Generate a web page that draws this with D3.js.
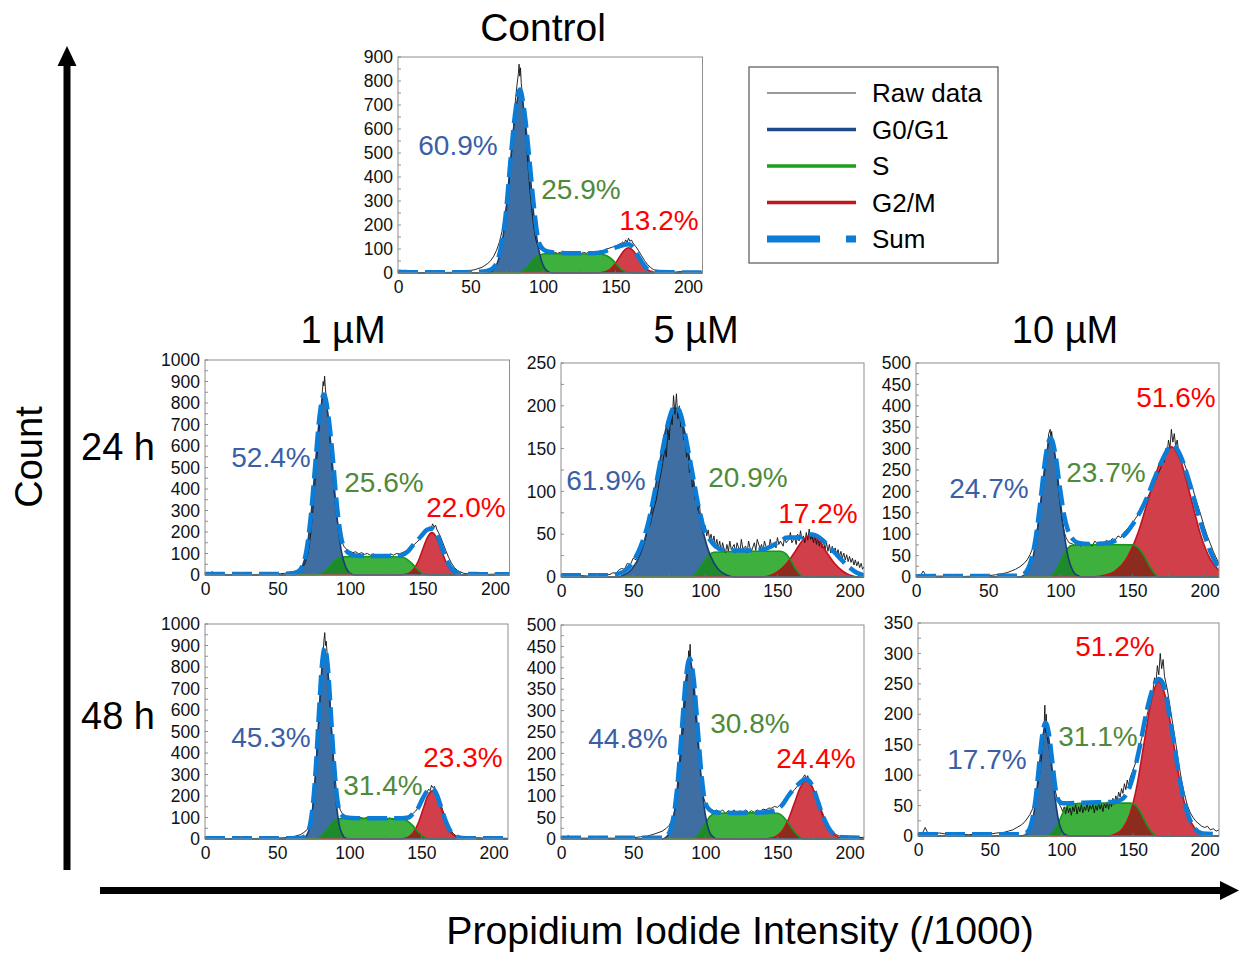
<!DOCTYPE html>
<html>
<head>
<meta charset="utf-8">
<script src="https://cdn.jsdelivr.net/npm/d3@7"></script>
<style>
  body { margin: 0; background: #fff; }
  text { font-family: "Liberation Sans", Arial, sans-serif; }
</style>
</head>
<body>
<svg id="fig" width="1239" height="954"></svg>
<script>
// every series is [PI intensity (/1000), count]

// ---- Control ----
const ctrlRaw = [[0,3],[3,4],[5,12],[7,3],[12,2],[20,2],[30,2],[40,3],[45,5],[48,8],[50,10],[53,14],[55,18],[58,24],[60,32],[62,40],[64,52],[66,70],[68,95],[70,130],[72,180],[74,250],[76,340],[78,470],[79,560],[80,630],[81,720],[82,780],[83,830],[83.5,870],[84,820],[84.5,855],[85,790],[86,730],[87,660],[88,590],[89,500],[90,420],[91,340],[92,280],[93,220],[94,175],[95,140],[96,120],[97,108],[98,100],[100,92],[102,88],[104,90],[106,84],[108,86],[110,82],[112,86],[114,80],[116,84],[118,78],[120,82],[122,76],[124,84],[126,80],[128,86],[130,82],[132,88],[134,84],[136,90],[138,88],[140,94],[142,92],[144,100],[146,104],[148,108],[150,112],[152,118],[154,124],[155,130],[156,122],[157,138],[158,128],[159,145],[160,132],[161,138],[162,125],[164,110],[166,92],[168,72],[170,52],[172,36],[174,24],[176,15],[178,10],[180,7],[185,4],[190,3],[195,6],[198,3],[205,2],[210,4]]
const ctrlG1 = [[62,0],[65,8],[68,33],[71,100],[74.5,250],[77.5,460],[81,670],[84,760],[87,670],[90.5,460],[93.5,250],[97,100],[100,33],[103,8],[106,0]]
const ctrlS = [[82,0],[86,8],[90,30],[94,60],[98,75],[102,80],[120,80],[140,78],[144,72],[148,55],[151,35],[154,15],[158,3],[162,0]]
const ctrlG2 = [[136,0],[139.5,1],[142.75,5],[146,14],[149.25,34],[152.5,64],[155.75,93],[159,105],[162.25,93],[165.5,64],[168.75,34],[172,14],[175.25,5],[178.5,1],[182,0]]
const ctrlSum = [[0,5],[10,3],[20,3],[40,3],[55,5],[62,10],[65,18],[68,42],[71,108],[74.5,255],[77.5,465],[81,675],[84,765],[87,680],[90.5,480],[93.5,290],[97,130],[100,100],[103,90],[108,85],[120,82],[130,82],[140,86],[146,98],[152,110],[156,118],[159,120],[162,108],[165.5,72],[168.75,40],[172,18],[176,8],[180,4],[190,3],[210,2]]
const ctrlPct = [60.9, 25.9, 13.2]

// ---- 1 uM, 24 h ----
const m1h24Raw = [[0,3],[3,4],[5,16],[7,4],[10,3],[20,2],[30,2],[40,3],[48,4],[52,6],[55,8],[58,11],[60,14],[62,18],[64,24],[66,30],[68,42],[69,55],[70,75],[71,100],[72,140],[73,200],[74,270],[75,350],[76,440],[77,530],[78,620],[79,700],[80,780],[81,860],[81.5,900],[82,880],[82.5,925],[83,870],[84,800],[85,730],[86,650],[87,560],[88,470],[89,390],[90,320],[91,265],[92,220],[93,185],[94,160],[95,145],[96,132],[97,124],[98,116],[100,110],[102,104],[104,108],[106,98],[108,104],[110,96],[112,100],[114,92],[116,98],[118,90],[120,96],[122,88],[124,96],[126,90],[128,98],[130,92],[132,100],[134,98],[136,104],[138,110],[140,118],[142,128],[144,140],[146,152],[148,166],[150,180],[152,195],[153,205],[154,215],[155,225],[156,218],[157,238],[158,222],[159,232],[160,210],[162,185],[164,150],[166,115],[168,82],[170,55],[172,35],[174,22],[176,14],[178,9],[180,6],[185,4],[190,5],[195,3],[200,4],[205,3],[210,3]]
const m1h24G1 = [[61,0],[64,9],[67,37],[70,112],[73,270],[76,504],[79,732],[82,830],[85,732],[88,504],[91,270],[94,112],[97,37],[100,9],[103,0]]
const m1h24S = [[76,0],[80,5],[84,25],[88,55],[92,78],[96,85],[120,86],[135,84],[139,75],[143,52],[146,30],[149,12],[153,2],[156,0]]
const m1h24G2 = [[134,0],[137.6,2],[140.75,9],[143.9,27],[147.05,64],[150.2,120],[153.35,174],[156.5,197],[159.65,174],[162.8,120],[165.95,64],[169.1,27],[172.25,9],[175.4,2],[179,0]]
const m1h24Sum = [[0,5],[50,5],[60,8],[64,14],[67,40],[70,115],[73,275],[76,510],[79,740],[82,840],[85,745],[88,555],[91,320],[94,170],[97,118],[100,98],[105,90],[115,88],[125,88],[135,92],[140,110],[143,135],[147,165],[150,188],[153,210],[156.5,215],[160,190],[163,135],[166,80],[169,40],[172,18],[176,7],[180,5],[190,4],[210,3]]
const m1h24Pct = [52.4, 25.6, 22.0]

// ---- 5 uM, 24 h ----
const m5h24Raw = [[0,2],[10,2],[20,1],[30,2],[34,3],[36,5],[38,4],[40,8],[42,10],[44,9],[46,16],[48,14],[50,22],[52,20],[54,30],[56,34],[58,42],[60,55],[62,62],[64,78],[66,90],[68,110],[70,128],[72,150],[73,140],[74,172],[75,160],[76,190],[77,178],[78,212],[79,190],[80,214],[81,185],[82,200],[83,175],[84,188],[85,160],[86,168],[87,140],[88,150],[89,122],[90,130],[91,105],[92,112],[93,90],[94,96],[95,78],[96,84],[97,66],[98,72],[99,58],[100,60],[101,48],[102,55],[103,44],[104,50],[105,40],[106,48],[107,36],[108,44],[109,34],[110,42],[111,30],[112,40],[113,33],[114,28],[115,38],[116,30],[117,42],[118,32],[120,38],[121,28],[122,40],[124,30],[125,44],[126,33],[128,36],[129,28],[130,42],[131,34],[132,30],[134,40],[135,31],[136,44],[138,33],[139,38],[140,30],[141,42],[142,36],[144,33],[145,44],[146,35],[148,40],[149,34],[150,46],[151,38],[152,42],[154,36],[155,48],[156,40],[158,44],[159,52],[160,40],[162,46],[163,38],[164,50],[165,42],[166,54],[167,44],[168,48],[169,40],[170,52],[171,43],[172,56],[173,44],[174,48],[175,40],[176,50],[177,38],[178,46],[179,36],[180,44],[181,34],[182,42],[183,32],[184,40],[185,30],[186,38],[187,28],[188,36],[189,27],[190,34],[191,25],[192,32],[193,24],[194,30],[195,22],[196,28],[197,20],[198,26],[199,18],[200,24],[201,17],[202,22],[203,14],[204,20],[205,13],[206,18],[207,11],[208,16],[209,9],[210,12]]
const m5h24G1 = [[40,0],[43,2],[49,9],[55,27],[61,64],[67,120],[73,175],[79,198],[85,175],[91,120],[97,64],[103,27],[109,9],[115,2],[120,0]]
const m5h24S = [[90,0],[94,5],[98,15],[102,25],[106,29],[130,30],[152,30],[156,27],[159,20],[162,11],[165,4],[168,0]]
const m5h24G2 = [[140,0],[145.5,2],[151,7],[156.5,16],[162,29],[167.5,43],[173,48.5],[178.5,43],[184,29],[189.5,16],[195,7],[200.5,2],[206,0]]
const m5h24Sum = [[0,2],[30,2],[40,4],[45,8],[50,18],[55,35],[60,60],[65,100],[70,145],[75,185],[79,200],[83,190],[87,158],[91,122],[95,85],[99,57],[103,44],[107,36],[112,32],[120,31],[130,31],[140,32],[146,36],[152,42],[157,46],[162,46],[167,47],[172,50],[176,49],[180,45],[185,37],[190,28],[195,19],[200,11],[205,5],[210,2]]
const m5h24Pct = [61.9, 20.9, 17.2]

// ---- 10 uM, 24 h ----
const m10h24Raw = [[0,2],[3,3],[5,14],[7,3],[10,2],[20,2],[30,1],[40,2],[50,3],[55,5],[60,8],[63,10],[66,14],[69,18],[72,24],[75,32],[77,40],[79,52],[81,68],[83,95],[85,130],[86,160],[87,190],[88,215],[89,240],[90,270],[91,300],[92,335],[93,345],[93.5,320],[94,340],[95,310],[96,295],[97,265],[98,230],[99,195],[100,165],[101,138],[102,118],[103,102],[104,92],[105,86],[106,80],[108,78],[110,74],[112,80],[114,72],[116,78],[118,74],[120,80],[122,72],[124,84],[126,76],[128,82],[130,78],[132,86],[134,80],[136,90],[138,86],[140,96],[142,92],[144,104],[146,110],[148,118],[150,126],[152,136],[154,146],[156,156],[158,168],[160,182],[162,196],[164,210],[166,226],[168,242],[170,258],[171,280],[172,268],[173,300],[174,288],[175,320],[176,300],[177,345],[178,315],[179,335],[180,305],[181,320],[182,295],[184,285],[186,265],[188,245],[190,225],[192,205],[194,180],[196,160],[198,138],[200,115],[202,95],[204,78],[206,60],[208,45],[210,32]]
const m10h24G1 = [[72,0],[74.7,3.5],[77.8,14],[80.9,43],[84,104],[87.1,194],[90.2,282],[93.3,320],[96.4,282],[99.5,194],[102.6,104],[105.7,43],[108.8,14],[111.9,3.5],[115,0]]
const m10h24S = [[92,0],[96,10],[100,35],[104,62],[108,74],[130,76],[150,75],[154,68],[158,50],[162,25],[165,10],[168,0]]
const m10h24G2 = [[124,0],[129.9,3.4],[137.75,13],[145.6,41],[153.45,99],[161.3,185],[169.15,268],[177,304],[183.75,268],[190.5,185],[197.25,99],[204,41],[210.75,13]]
const m10h24Sum = [[0,2],[70,3],[75,8],[78,22],[81,55],[84,115],[87,200],[90,285],[93.3,325],[96.4,290],[99.5,215],[102.6,145],[105.7,105],[108.8,88],[112,80],[120,77],[130,78],[136,82],[140,88],[145,100],[150,122],[155,150],[160,185],[165,228],[170,268],[174,295],[177,308],[180,303],[184,278],[188,238],[192,192],[196,142],[200,98],[204,60],[208,32],[210,22]]
const m10h24Pct = [24.7, 23.7, 51.6]

// ---- 1 uM, 48 h ----
const m1h48Raw = [[0,4],[3,5],[5,12],[7,4],[10,3],[20,2],[30,2],[40,3],[50,4],[55,6],[60,10],[63,14],[66,20],[68,28],[70,38],[72,55],[73,70],[74,110],[75,170],[76,250],[77,340],[78,450],[79,560],[80,680],[81,790],[82,880],[82.5,930],[83,960],[83.5,900],[84,920],[85,830],[86,720],[87,610],[88,490],[89,390],[90,300],[91,230],[92,180],[93,150],[94,132],[95,120],[96,112],[98,106],[100,102],[102,98],[104,104],[106,96],[108,100],[110,94],[112,100],[114,92],[116,98],[118,90],[120,98],[122,92],[124,96],[126,90],[128,98],[130,92],[132,96],[134,92],[136,98],[138,96],[140,102],[142,108],[144,118],[146,130],[148,150],[150,175],[152,200],[154,220],[155,232],[156,225],[157,250],[158,238],[159,245],[160,220],[162,185],[164,150],[166,110],[168,75],[170,45],[172,26],[174,15],[176,9],[178,6],[185,4],[190,6],[195,3],[205,4],[210,3]]
const m1h48G1 = [[66,0],[69,5],[71,24],[73,66],[75,168],[77,344],[79,578],[81,788],[83,873],[85,788],[87,578],[89,344],[91,168],[93,66],[95,24],[97,5],[100,0]]
const m1h48S = [[76,0],[80,10],[84,40],[88,75],[92,93],[96,96],[120,96],[136,93],[140,85],[144,62],[147,38],[150,18],[153,5],[156,0]]
const m1h48G2 = [[135,0],[138,2.5],[141.25,10],[144.5,30],[147.75,73],[151,136],[154.25,198],[157.5,224],[160.75,198],[164,136],[167.25,73],[170.5,30],[173.75,10],[177,2.5],[180,0]]
const m1h48Sum = [[0,3],[60,3],[67,6],[71,28],[73,72],[75,175],[77,352],[79,590],[81,805],[83,890],[85,810],[87,612],[89,390],[91,225],[93,135],[95,110],[98,100],[105,97],[120,97],[136,96],[141,100],[144.5,120],[147.75,145],[151,190],[154.25,225],[157.5,235],[160.75,205],[164,140],[167.25,76],[170.5,32],[174,12],[178,5],[185,3],[210,3]]
const m1h48Pct = [45.3, 31.4, 23.3]

// ---- 5 uM, 48 h ----
const m5h48Raw = [[0,4],[3,3],[5,8],[7,3],[10,2],[20,2],[30,2],[40,2],[50,3],[55,5],[60,7],[65,12],[70,18],[73,25],[75,32],[77,45],[78,55],[79,70],[80,95],[81,120],[82,150],[83,190],[84,230],[85,270],[86,320],[87,360],[88,410],[88.5,440],[89,420],[89.5,455],[90,415],[91,390],[92,340],[93,300],[94,260],[95,220],[96,180],[97,145],[98,115],[99,95],[100,85],[101,78],[102,72],[104,70],[106,64],[108,68],[110,62],[112,68],[114,60],[116,66],[118,62],[120,68],[122,60],[124,66],[126,62],[128,68],[130,62],[132,66],[134,62],[136,68],[138,64],[140,70],[142,68],[144,72],[146,72],[148,76],[150,74],[152,80],[154,86],[156,92],[158,100],[160,108],[162,116],[164,124],[166,134],[168,145],[169,150],[170,140],[171,148],[172,136],[174,124],[176,108],[178,90],[180,72],[182,55],[184,40],[186,28],[188,18],[190,12],[192,8],[195,5],[200,6],[205,3],[210,4]]
const m5h48G1 = [[70,0],[73,4.6],[75.7,18],[78.4,57],[81.1,136],[83.8,254],[86.5,369],[89.2,418],[91.9,369],[94.6,254],[97.3,136],[100,57],[102.7,18],[105.4,4.6],[108,0]]
const m5h48S = [[91,0],[95,10],[99,30],[103,52],[107,60],[130,61],[150,60],[154,52],[157,40],[160,25],[163,12],[166,3],[169,0]]
const m5h48G2 = [[141,0],[144.8,1.5],[149,6],[153.2,18],[157.4,44],[161.6,82],[165.8,120],[170,136],[174.2,120],[178.4,82],[182.6,44],[186.8,18],[191,6],[195.2,1.5],[199,0]]
const m5h48Sum = [[0,3],[70,3],[73,7],[75.7,20],[78.4,60],[81.1,140],[83.8,258],[86.5,373],[89.2,422],[91.9,376],[94.6,265],[97.3,152],[100,85],[103,68],[107,62],[120,61],[140,62],[148,66],[153,78],[157.4,100],[161.6,118],[165.8,132],[170,140],[174.2,124],[178.4,84],[182.6,45],[186.8,19],[191,7],[196,4],[210,3]]
const m5h48Pct = [44.8, 30.8, 24.4]

// ---- 10 uM, 48 h ----
const m10h48Raw = [[0,3],[3,4],[5,14],[7,4],[10,3],[15,5],[20,3],[25,2],[30,3],[35,2],[40,3],[45,4],[50,3],[55,5],[60,6],[63,8],[66,10],[69,14],[72,18],[74,22],[76,28],[78,35],[80,45],[81,55],[82,65],[83,75],[84,90],[85,105],[86,125],[87,150],[88,180],[88.5,215],[89,170],[89.5,200],[90,165],[91,150],[92,135],[93,115],[94,100],[95,85],[96,72],[97,62],[98,55],[99,50],[100,46],[101,40],[102,48],[103,36],[104,50],[105,38],[106,46],[107,34],[108,48],[109,40],[110,52],[111,36],[112,48],[113,40],[114,52],[115,38],[116,48],[117,42],[118,54],[119,40],[120,50],[121,44],[122,52],[123,38],[124,50],[125,42],[126,54],[127,44],[128,52],[129,40],[130,54],[131,46],[132,56],[133,44],[134,58],[135,48],[136,62],[137,52],[138,66],[139,58],[140,72],[141,64],[142,78],[143,70],[144,86],[145,76],[146,92],[147,82],[148,96],[150,108],[152,122],[154,140],[156,160],[158,180],[160,200],[162,220],[164,240],[165,260],[166,250],[167,280],[168,265],[169,300],[170,275],[171,290],[172,262],[174,240],[176,210],[178,180],[180,150],[182,118],[184,90],[186,68],[188,50],[190,38],[192,30],[194,24],[196,20],[198,16],[200,14],[202,16],[204,10],[206,12],[208,8],[210,10]]
const m10h48G1 = [[72,0],[75.2,2],[77.5,8],[79.8,24],[82.1,58],[84.4,109],[86.7,159],[89,180],[91.3,159],[93.6,109],[95.9,58],[98.2,24],[100.5,8],[102.8,2],[106,0]]
const m10h48S = [[90,0],[94,6],[98,22],[102,42],[106,52],[120,54],[148,54],[152,50],[155,40],[158,26],[161,13],[164,4],[167,0]]
const m10h48G2 = [[133,0],[137.4,2.8],[142.5,11],[147.6,34],[152.7,82],[157.8,154],[162.9,224],[168,254],[173.1,224],[178.2,154],[183.3,82],[188.4,34],[193.5,11],[198.6,2.8],[203,0]]
const m10h48Sum = [[0,3],[70,3],[75,5],[77.5,10],[79.8,28],[82.1,62],[84.4,115],[86.7,166],[89,186],[91.3,168],[93.6,124],[95.9,78],[98.2,58],[101,54],[106,54],[120,55],[135,56],[140,58],[144,64],[147.6,80],[150,98],[152.7,125],[155,150],[157.8,185],[160,210],[162.9,236],[165,250],[168,258],[171,250],[173.1,230],[175.6,195],[178.2,158],[180.7,120],[183.3,84],[185.8,56],[188.4,35],[191,20],[193.5,11],[198.6,4],[210,3]]
const m10h48Pct = [17.7, 31.1, 51.2]

const xTicks = [0, 50, 100, 150, 200]
const xMax = 210
const legendLabels = ['Raw data', 'G0/G1', 'S', 'G2/M', 'Sum']
const doseLabels = ['1 µM', '5 µM', '10 µM']
const timeLabels = ['24 h', '48 h']

// colours
const col = {
  g1Fill: '#3f6ea3', g1Line: '#1b3c70',
  sFill: '#3eb03e', sLine: '#16961a',
  g2Fill: '#d1404a', g2Line: '#c3121c',
  g1sOver: '#1f8a2c', sg2Over: '#8b2c1f',
  sum: '#0b7dd6', raw: '#111',
  pct: ['#3a5fa6', '#4f8a3b', '#ff0000']
}

// panel boxes (plot area in px) + label anchors
const panels = [
  { left: 398, top: 57,  w: 304.5, h: 216, yMax: 900,  yStep: 100, raw: ctrlRaw,  g1: ctrlG1,  s: ctrlS,  g2: ctrlG2,  sum: ctrlSum,  pct: ctrlPct,  pctPos: [[458,155],[581,199],[659,230]] },
  { left: 205, top: 360, w: 304.5, h: 215, yMax: 1000, yStep: 100, raw: m1h24Raw, g1: m1h24G1, s: m1h24S, g2: m1h24G2, sum: m1h24Sum, pct: m1h24Pct, pctPos: [[271,467],[384,492],[466,517]] },
  { left: 561, top: 363, w: 303,   h: 214, yMax: 250,  yStep: 50,  raw: m5h24Raw, g1: m5h24G1, s: m5h24S, g2: m5h24G2, sum: m5h24Sum, pct: m5h24Pct, pctPos: [[606,490],[748,487],[818,523]] },
  { left: 916, top: 363, w: 303,   h: 214, yMax: 500,  yStep: 50,  raw: m10h24Raw, g1: m10h24G1, s: m10h24S, g2: m10h24G2, sum: m10h24Sum, pct: m10h24Pct, pctPos: [[989,498],[1106,482],[1176,407]] },
  { left: 205, top: 624, w: 303,   h: 215, yMax: 1000, yStep: 100, raw: m1h48Raw, g1: m1h48G1, s: m1h48S, g2: m1h48G2, sum: m1h48Sum, pct: m1h48Pct, pctPos: [[271,747],[383,795],[463,767]] },
  { left: 561, top: 625, w: 303,   h: 214, yMax: 500,  yStep: 50,  raw: m5h48Raw, g1: m5h48G1, s: m5h48S, g2: m5h48G2, sum: m5h48Sum, pct: m5h48Pct, pctPos: [[628,748],[750,733],[816,768]] },
  { left: 918, top: 623, w: 301,   h: 213, yMax: 350,  yStep: 50,  raw: m10h48Raw, g1: m10h48G1, s: m10h48S, g2: m10h48G2, sum: m10h48Sum, pct: m10h48Pct, pctPos: [[987,769],[1098,746],[1115,656]] },
]

const svg = d3.select('#fig')
const defs = svg.append('defs')
const fmtPct = d => d3.format('.1f')(d) + '%'

// pad a component out to the axis ends so its outline runs along the baseline
function padded(pts) {
  const out = pts.slice()
  if (out[0][0] > 0) out.unshift([0, 0])
  if (out[out.length - 1][0] < xMax) out.push([xMax, 0])
  return out
}

panels.forEach((p, i) => {
  const x = d3.scaleLinear().domain([0, xMax]).range([p.left, p.left + p.w])
  const y = d3.scaleLinear().domain([0, p.yMax]).range([p.top + p.h, p.top])

  const area = d3.area().curve(d3.curveMonotoneX)
    .x(d => x(d[0])).y0(y(0)).y1(d => y(d[1]))
  const line = d3.line().curve(d3.curveMonotoneX)
    .x(d => x(d[0])).y(d => y(d[1]))
  const rawLine = d3.line().x(d => x(d[0])).y(d => y(d[1]))

  defs.append('clipPath').attr('id', 'plot' + i)
    .append('rect').attr('x', p.left).attr('y', p.top - 1).attr('width', p.w).attr('height', p.h + 2)
  defs.append('clipPath').attr('id', 'g1c' + i).append('path').attr('d', area(p.g1))
  defs.append('clipPath').attr('id', 'sc' + i).append('path').attr('d', area(p.s))

  const g = svg.append('g').attr('clip-path', `url(#plot${i})`)

  // filled components
  g.append('path').attr('d', area(p.g1)).attr('fill', col.g1Fill)
  g.append('path').attr('d', area(p.s)).attr('fill', col.sFill)
  g.append('path').attr('d', area(p.g2)).attr('fill', col.g2Fill)
  // overlaps show darker
  g.append('path').attr('d', area(p.s)).attr('fill', col.g1sOver).attr('clip-path', `url(#g1c${i})`)
  g.append('path').attr('d', area(p.g2)).attr('fill', col.sg2Over).attr('clip-path', `url(#sc${i})`)

  // raw histogram
  g.append('path').attr('d', rawLine(p.raw))
    .attr('fill', 'none').attr('stroke', col.raw).attr('stroke-width', 0.9)

  // component outlines
  ;[[p.g2, col.g2Line], [p.s, col.sLine], [p.g1, col.g1Line]].forEach(([pts, c]) => {
    g.append('path').attr('d', line(padded(pts)))
      .attr('fill', 'none').attr('stroke', c).attr('stroke-width', 1.6)
  })

  // model sum
  g.append('path').attr('d', line(p.sum))
    .attr('fill', 'none').attr('stroke', col.sum).attr('stroke-width', 4.5)
    .attr('stroke-dasharray', '20,7')

  // frame
  svg.append('rect').attr('x', p.left).attr('y', p.top).attr('width', p.w).attr('height', p.h)
    .attr('fill', 'none').attr('stroke', '#8e8e8e').attr('stroke-width', 1)

  // minor ticks (inside)
  const yMinor = d3.range(0, p.yMax + 0.01, p.yStep / 2)
  svg.append('g').selectAll('line').data(yMinor).join('line')
    .attr('x1', p.left).attr('x2', p.left + 3)
    .attr('y1', d => y(d)).attr('y2', d => y(d))
    .attr('stroke', '#777').attr('stroke-width', 0.8)
  svg.append('g').selectAll('line').data(d3.range(0, xMax + 0.01, 25)).join('line')
    .attr('x1', d => x(d)).attr('x2', d => x(d))
    .attr('y1', p.top + p.h).attr('y2', p.top + p.h - 3)
    .attr('stroke', '#777').attr('stroke-width', 0.8)

  // axes
  const ya = svg.append('g').attr('transform', `translate(${p.left},0)`)
    .call(d3.axisLeft(y).tickValues(d3.range(0, p.yMax + 0.01, p.yStep)).tickSize(0).tickPadding(5).tickFormat(d3.format('d')))
  const xa = svg.append('g').attr('transform', `translate(0,${p.top + p.h})`)
    .call(d3.axisBottom(x).tickValues(xTicks).tickSize(0).tickPadding(8))
  ;[ya, xa].forEach(a => {
    a.select('.domain').remove()
    a.selectAll('text').attr('font-size', 17.5).attr('fill', '#111')
      .style('font-family', '"Liberation Sans", Arial, sans-serif')
  })

  // phase percentages
  p.pct.forEach((v, k) => {
    svg.append('text').attr('x', p.pctPos[k][0]).attr('y', p.pctPos[k][1])
      .attr('text-anchor', 'middle').attr('font-size', 28).attr('fill', col.pct[k])
      .text(fmtPct(v))
  })
})

// titles
svg.append('text').attr('x', 543).attr('y', 41).attr('text-anchor', 'middle')
  .attr('font-size', 39).text('Control')
const doseX = [343, 696, 1065]
doseLabels.forEach((t, k) => {
  svg.append('text').attr('x', doseX[k]).attr('y', 343).attr('text-anchor', 'middle')
    .attr('font-size', 38).text(t)
})
const timeY = [460, 729]
timeLabels.forEach((t, k) => {
  svg.append('text').attr('x', 118).attr('y', timeY[k]).attr('text-anchor', 'middle')
    .attr('font-size', 38).text(t)
})

// big axes arrows
svg.append('line').attr('x1', 67).attr('x2', 67).attr('y1', 870).attr('y2', 62)
  .attr('stroke', '#000').attr('stroke-width', 7)
svg.append('path').attr('d', 'M67,46 L57.5,66 L76.5,66 Z').attr('fill', '#000')
svg.append('line').attr('x1', 100).attr('x2', 1222).attr('y1', 890.5).attr('y2', 890.5)
  .attr('stroke', '#000').attr('stroke-width', 7)
svg.append('path').attr('d', 'M1239,890.5 L1220,881 L1220,900 Z').attr('fill', '#000')

svg.append('text').attr('transform', 'translate(42,457) rotate(-90)')
  .attr('text-anchor', 'middle').attr('font-size', 38).text('Count')
svg.append('text').attr('x', 740).attr('y', 944).attr('text-anchor', 'middle')
  .attr('font-size', 39.3).text('Propidium Iodide Intensity (/1000)')

// legend
const leg = svg.append('g')
leg.append('rect').attr('x', 749).attr('y', 67).attr('width', 249).attr('height', 196)
  .attr('fill', '#fff').attr('stroke', '#555').attr('stroke-width', 1.2)
const legStyle = [
  { c: '#777', w: 1.5 }, { c: '#1d4a8a', w: 3.5 }, { c: '#1aa01a', w: 3.5 },
  { c: '#c4161e', w: 3.5 }, { c: col.sum, w: 7, dash: '53,26' }
]
legendLabels.forEach((t, k) => {
  const ly = 93 + k * 36.5
  leg.append('line').attr('x1', 767).attr('x2', 856).attr('y1', ly).attr('y2', ly)
    .attr('stroke', legStyle[k].c).attr('stroke-width', legStyle[k].w)
    .attr('stroke-dasharray', legStyle[k].dash || null)
  leg.append('text').attr('x', 872).attr('y', ly + 9).attr('font-size', 26).text(t)
})
</script>
</body>
</html>
